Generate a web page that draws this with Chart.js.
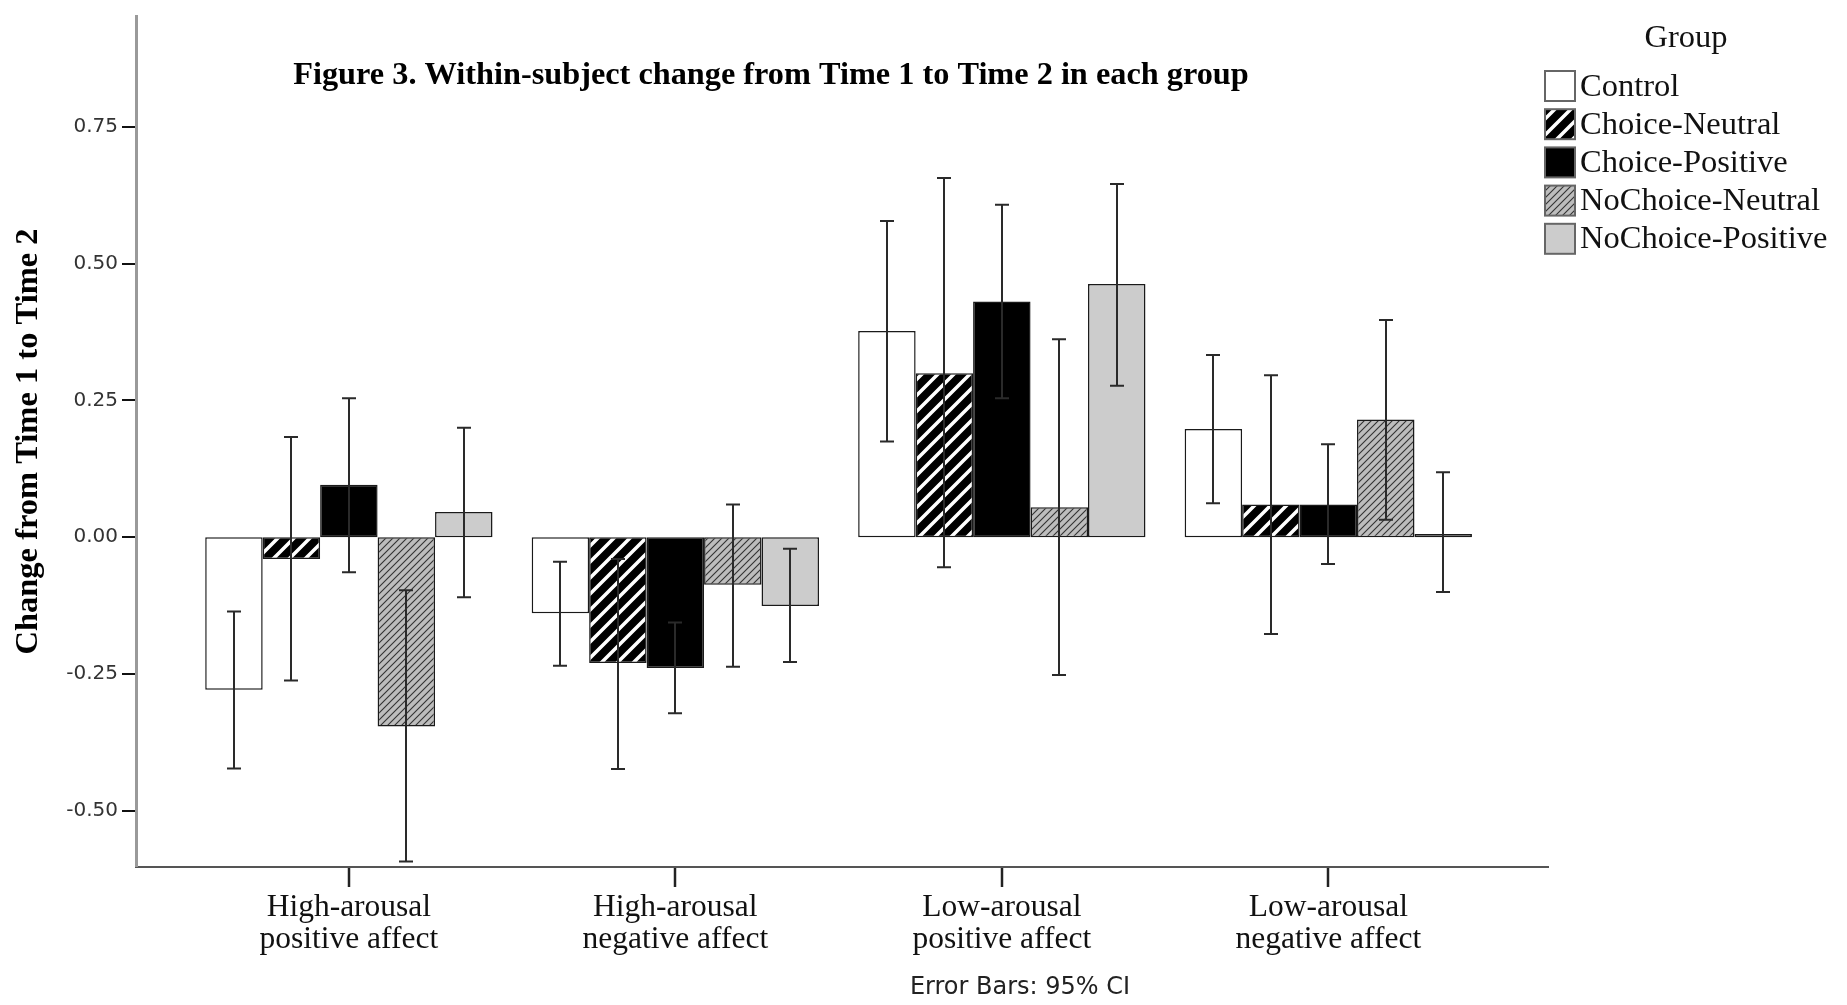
<!DOCTYPE html>
<html>
<head>
<meta charset="utf-8">
<script src="https://cdn.jsdelivr.net/npm/chart.js@4.4.1/dist/chart.umd.min.js"></script>
<style>
html,body{margin:0;padding:0;background:#fff;}
#wrap{width:1847px;height:1005px;position:relative;}
</style>
</head>
<body>
<div id="wrap"><canvas id="c"></canvas></div>
<script>
// ---- data ----
const categories = [
  ['High-arousal', 'positive affect'],
  ['High-arousal', 'negative affect'],
  ['Low-arousal', 'positive affect'],
  ['Low-arousal', 'negative affect']
];
const categoryPositions = [0, 1, 2, 3];
const groups = ['Control', 'Choice-Neutral', 'Choice-Positive', 'NoChoice-Neutral', 'NoChoice-Positive'];

const controlMean          = [-0.279, -0.139, 0.377, 0.198];
const choiceNeutralMean    = [-0.040, -0.230, 0.300, 0.060];
const choicePositiveMean   = [ 0.096, -0.239, 0.431, 0.060];
const noChoiceNeutralMean  = [-0.346, -0.087, 0.055, 0.215];
const noChoicePositiveMean = [ 0.046, -0.126, 0.463, 0.006];

const controlLow           = [-0.423, -0.235, 0.175, 0.062];
const controlHigh          = [-0.136, -0.045, 0.578, 0.333];
const choiceNeutralLow     = [-0.262, -0.424, -0.055, -0.177];
const choiceNeutralHigh    = [ 0.183, -0.040, 0.657, 0.296];
const choicePositiveLow    = [-0.064, -0.322, 0.254, -0.049];
const choicePositiveHigh   = [ 0.254, -0.156, 0.608, 0.170];
const noChoiceNeutralLow   = [-0.593, -0.237, -0.252, 0.032];
const noChoiceNeutralHigh  = [-0.097, 0.060, 0.362, 0.397];
const noChoicePositiveLow  = [-0.110, -0.228, 0.277, -0.100];
const noChoicePositiveHigh = [ 0.200, -0.021, 0.646, 0.119];

const yTickValues = [-0.5, -0.25, 0, 0.25, 0.5, 0.75];
const titleText = 'Figure 3. Within-subject change from Time 1 to Time 2 in each group';
const yTitleText = 'Change from Time 1 to Time 2';
const legendTitle = 'Group';
const footnoteText = 'Error Bars: 95% CI';

// ---- patterns ----
function stripes(bg, fg, size, lw) {
  const c = document.createElement('canvas');
  c.width = size; c.height = size;
  const g = c.getContext('2d');
  g.fillStyle = bg; g.fillRect(0, 0, size, size);
  g.strokeStyle = fg; g.lineWidth = lw;
  g.beginPath();
  for (let k = -1; k <= 1; k++) {
    g.moveTo(k * size - 2, size + 2);
    g.lineTo(k * size + size + 2, -2);
  }
  g.stroke();
  return g.createPattern(c, 'repeat');
}
const fills = [
  '#ffffff',
  stripes('#000000', '#ffffff', 16, 3.5),
  '#000000',
  stripes('#bdbdbd', '#333333', 7, 1.1),
  '#cccccc'
];
const means = [controlMean, choiceNeutralMean, choicePositiveMean, noChoiceNeutralMean, noChoicePositiveMean];
const lows = [controlLow, choiceNeutralLow, choicePositiveLow, noChoiceNeutralLow, noChoicePositiveLow];
const highs = [controlHigh, choiceNeutralHigh, choicePositiveHigh, noChoiceNeutralHigh, noChoicePositiveHigh];

const datasets = groups.map((g, gi) => ({
  label: g,
  data: means[gi].map((v, i) => ({x: categoryPositions[i], y: v})),
  ciLow: lows[gi],
  ciHigh: highs[gi],
  backgroundColor: fills[gi],
  borderColor: '#1a1a1a',
  borderWidth: 1.5,
  borderSkipped: false,
  inflateAmount: 0,
  categoryPercentage: 0.88,
  barPercentage: 1.0
}));

// ---- plugins ----
const errorBars = {
  id: 'errorBars',
  afterDatasetsDraw(chart) {
    const ctx = chart.ctx, y = chart.scales.y;
    ctx.save();
    ctx.strokeStyle = '#2a2a2a';
    ctx.lineWidth = 2;
    chart.data.datasets.forEach((ds, di) => {
      const meta = chart.getDatasetMeta(di);
      meta.data.forEach((bar, i) => {
        const x = Math.round(bar.x);
        const yl = y.getPixelForValue(ds.ciLow[i]);
        const yh = y.getPixelForValue(ds.ciHigh[i]);
        const cap = 7;
        ctx.beginPath();
        ctx.moveTo(x, yl); ctx.lineTo(x, yh);
        ctx.moveTo(x - cap, yl); ctx.lineTo(x + cap, yl);
        ctx.moveTo(x - cap, yh); ctx.lineTo(x + cap, yh);
        ctx.stroke();
      });
    });
    ctx.restore();
  }
};

const decorations = {
  id: 'decorations',
  afterDraw(chart) {
    const ctx = chart.ctx;
    ctx.save();
    // title
    ctx.fillStyle = '#000';
    ctx.font = 'bold 32.3px "Liberation Serif"';
    ctx.textAlign = 'center';
    ctx.textBaseline = 'middle';
    ctx.fillText(titleText, 771, 76);
    // footnote
    ctx.font = '24px "DejaVu Sans"';
    ctx.fillStyle = '#222';
    ctx.fillText(footnoteText, 1020, 988);
    // legend
    ctx.fillStyle = '#111';
    ctx.font = '32.5px "Liberation Serif"';
    ctx.fillText(legendTitle, 1686, 38);
    ctx.textAlign = 'left';
    chart.data.datasets.forEach((ds, i) => {
      const cy = 86 + i * 38.2;
      ctx.fillStyle = ds.backgroundColor;
      ctx.fillRect(1545, cy - 15, 30, 30);
      ctx.strokeStyle = '#666';
      ctx.lineWidth = 2;
      ctx.strokeRect(1545, cy - 15, 30, 30);
      ctx.fillStyle = '#111';
      ctx.fillText(ds.label, 1580, cy + 1);
    });
    ctx.restore();
  }
};

new Chart(document.getElementById('c'), {
  type: 'bar',
  data: {datasets},
  plugins: [errorBars, decorations],
  options: {
    responsive: true,
    maintainAspectRatio: false,
    animation: false,
    layout: {padding: {top: 10, right: 298, left: 0, bottom: 0}},
    plugins: {legend: {display: false}, tooltip: {enabled: false}, title: {display: false}},
    scales: {
      x: {
        type: 'linear',
        offset: false,
        min: -0.652,
        max: 3.676,
        afterBuildTicks(s) { s.ticks = categoryPositions.map(v => ({value: v})); },
        afterFit(s) { s.height = 138; },
        grid: {offset: false, drawOnChartArea: false, drawTicks: true, lineWidth: 0, tickLength: 20, tickWidth: 2.5, tickColor: '#222'},
        border: {display: true, color: '#555', width: 2},
        ticks: {
          padding: 5,
          color: '#111',
          font: {family: '"Liberation Serif"', size: 31.5, lineHeight: 1.02},
          callback: (v, i) => categories[i],
          maxRotation: 0, autoSkip: false
        }
      },
      y: {
        min: -0.603,
        max: 0.953,
        afterBuildTicks(s) { s.ticks = yTickValues.map(v => ({value: v})); },
        afterFit(s) { s.width = 136; },
        grid: {drawOnChartArea: false, drawTicks: true, lineWidth: 0, tickLength: 14, tickWidth: 2, tickColor: '#111'},
        border: {display: true, color: '#9a9a9a', width: 3},
        ticks: {
          padding: 4,
          color: '#333',
          font: {family: '"DejaVu Sans"', size: 20},
          callback: v => v.toFixed(2)
        },
        title: {
          display: true,
          text: yTitleText,
          color: '#000',
          font: {family: '"Liberation Serif"', size: 32.5, weight: 'bold'},
          padding: {top: 9, bottom: 0}
        }
      }
    }
  }
});
</script>
</body>
</html>
